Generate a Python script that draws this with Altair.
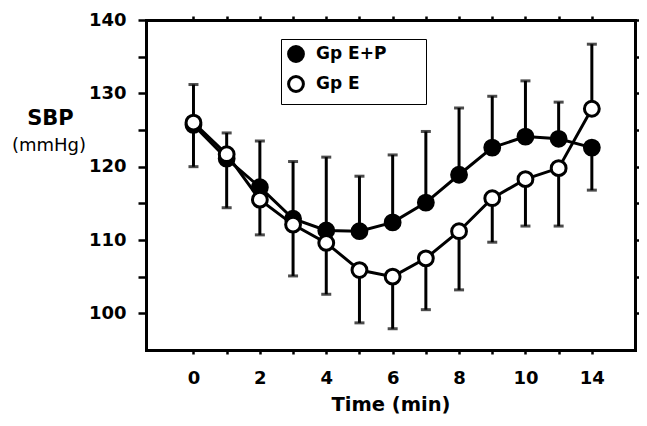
import json
import altair as alt
import pandas as pd

# ---- data ----
time_min = [0, 1, 2, 3, 4, 5, 6, 7, 8, 9, 10, 11, 14]
shown_time_labels = [0, 2, 4, 6, 8, 10, 14]
series_names = ["Gp E+P", "Gp E"]
ep_mean = [125.7, 121.1, 117.2, 112.9, 111.3, 111.2, 112.4, 115.1, 118.9, 122.6, 124.1, 123.8, 122.6]
ep_bar_end = [131.2, 124.6, 123.5, 120.7, 121.3, 118.7, 121.6, 124.8, 128.0, 129.6, 131.7, 128.8, 116.8]
e_mean = [126.0, 121.7, 115.5, 112.1, 109.6, 105.9, 105.0, 107.5, 111.2, 115.7, 118.3, 119.8, 127.9]
e_bar_end = [120.0, 114.4, 110.7, 105.1, 102.6, 98.7, 97.9, 100.5, 103.2, 109.7, 111.9, 111.9, 136.7]
y_ticks = [100, 105, 110, 115, 120, 125, 130, 135, 140]
y_title = "SBP"
y_unit = "(mmHg)"
x_title = "Time (min)"

rows = []
for name, means, ends in [(series_names[0], ep_mean, ep_bar_end),
                          (series_names[1], e_mean, e_bar_end)]:
    for i, (t, m, b) in enumerate(zip(time_min, means, ends)):
        rows.append({"series": name, "slot": i, "time": t, "sbp": m, "bar_end": b})
df = pd.DataFrame(rows)

tick_labels = [str(t) if t in shown_time_labels else "" for t in time_min]
x_label_expr = json.dumps(tick_labels) + "[datum.value]"
slots = list(range(len(time_min)))

FONT = "DejaVu Sans"
xs = alt.Scale(domain=[-1.43, 13.3], nice=False, zero=False)
ys = alt.Scale(domain=[95, 140], nice=False, zero=False)

axis_common = dict(grid=False, domainColor="black", domainWidth=3, domainCap="square",
                   tickColor="black", tickWidth=2.5, labelColor="black",
                   labelFont=FONT, labelFontWeight="bold", labelFontSize=18)

base = alt.Chart(df)

# error bars (also carry the top / right frame axes)
bars = base.mark_rule(color="black", strokeWidth=3).encode(
    x=alt.X("slot:Q", scale=xs, axis=alt.Axis(orient="top", values=slots, labels=False,
                                               title=None, tickSize=4, **axis_common)),
    y=alt.Y("sbp:Q", scale=ys, axis=alt.Axis(orient="right", values=y_ticks, labels=False,
                                              title=None, tickSize=4, **axis_common)),
    y2="bar_end:Q",
)
caps = base.mark_tick(color="black", orient="horizontal", size=10, thickness=3).encode(
    x=alt.X("slot:Q", scale=xs, axis=None),
    y=alt.Y("bar_end:Q", scale=ys, axis=None),
)
lines = base.mark_line(color="black", strokeWidth=3).encode(
    x=alt.X("slot:Q", scale=xs, axis=None),
    y=alt.Y("sbp:Q", scale=ys, axis=None),
    detail="series:N",
)
points = base.mark_point(filled=True, shape="circle", size=220, stroke="black",
                         strokeWidth=3, opacity=1).encode(
    x=alt.X("slot:Q", scale=xs,
            axis=alt.Axis(orient="bottom", values=slots, labelExpr=x_label_expr,
                          title=x_title, titleFont=FONT, titleFontWeight="bold",
                          titleFontSize=19.5, titleColor="black", titlePadding=8,
                          tickSize=4, labelPadding=15, **axis_common)),
    y=alt.Y("sbp:Q", scale=ys,
            axis=alt.Axis(orient="left", values=y_ticks,
                          labelExpr="datum.value % 10 == 0 ? datum.label : ''",
                          title=y_title, titleAngle=0, titleAlign="center",
                          titleBaseline="middle", titleX=-96, titleY=98,
                          titleFont=FONT, titleFontWeight="bold", titleFontSize=21,
                          titleColor="black", tickSize=8, labelPadding=12, **axis_common)),
    fill=alt.Fill("series:N", scale=alt.Scale(domain=series_names, range=["black", "white"]),
                  legend=alt.Legend(title=" ", titleOrient="right", titlePadding=34,
                                    orient="none", legendX=135, legendY=19,
                                    strokeColor="black", padding=6, rowPadding=2,
                                    symbolType="circle", symbolSize=220,
                                    symbolStrokeColor="black", symbolStrokeWidth=3,
                                    labelFont=FONT, labelFontWeight="bold",
                                    labelFontSize=17, labelColor="black", labelOffset=11)),
)
unit = alt.Chart(pd.DataFrame({"unit": [y_unit]})).mark_text(
    font=FONT, fontSize=18, align="center", baseline="middle", color="black"
).encode(text="unit:N", x=alt.value(-97), y=alt.value(126))

chart = alt.layer(bars, caps, lines, points, unit).resolve_axis(
    x="independent", y="independent"
).properties(
    width=489, height=330,
    padding={"left": 138, "top": 12, "right": 4, "bottom": 67},
    autosize=alt.AutoSizeParams(type="none"),
).configure_view(stroke=None).configure(background="white")

chart.save("out.html", embed_options={"renderer": "svg", "actions": False})
